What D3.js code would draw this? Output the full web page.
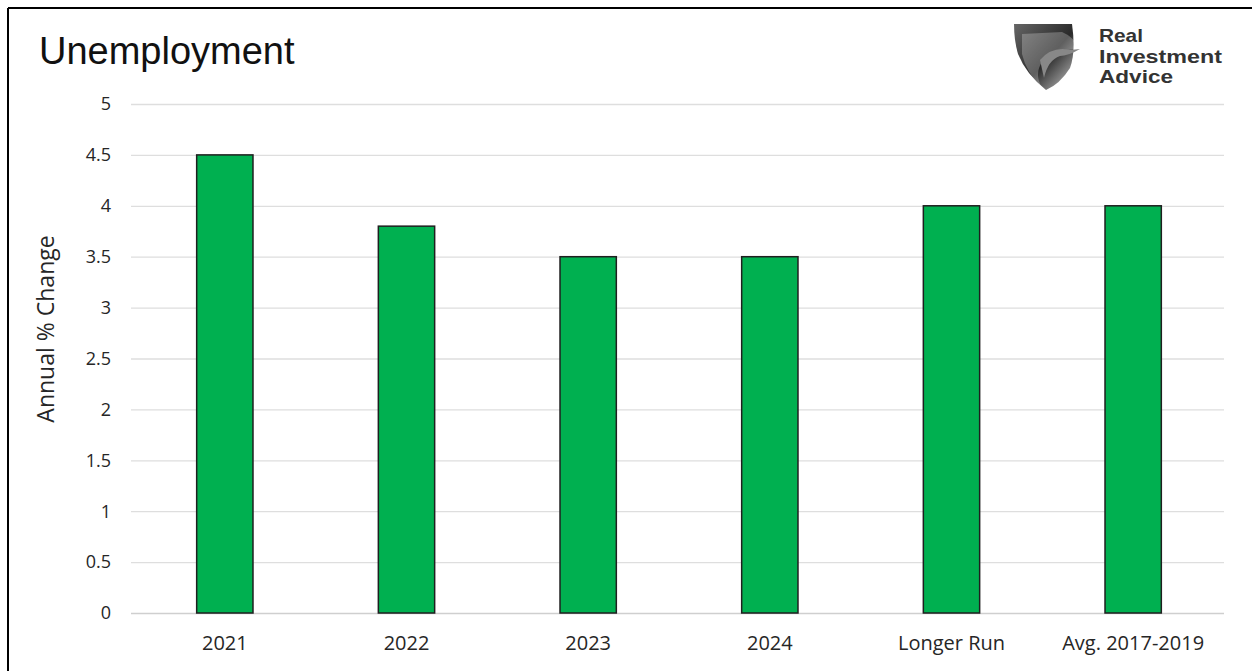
<!DOCTYPE html>
<html>
<head>
<meta charset="utf-8">
<script src="https://cdn.jsdelivr.net/npm/d3@7"></script>
<style>
  body { margin: 0; background: #fff; }
  svg { display: block; }
</style>
</head>
<body>
<svg id="chart" width="1252" height="671"></svg>
<script>
const categories = ['2021', '2022', '2023', '2024', 'Longer Run', 'Avg. 2017-2019'];
const values = [4.5, 3.8, 3.5, 3.5, 4.0, 4.0];
const yTicks = [0, 0.5, 1, 1.5, 2, 2.5, 3, 3.5, 4, 4.5, 5];

const svg = d3.select('#chart');
const W = 1252, H = 671;
const margin = { left: 134, right: 28, top: 104, bottom: 58 };
const labelFont = '"Open Sans", Lato, sans-serif';

// frame (only left and top edges are visible in the source crop)
svg.append('line').attr('x1', 8).attr('x2', 8).attr('y1', 8).attr('y2', H).attr('stroke', '#000').attr('stroke-width', 2);
svg.append('line').attr('x1', 8).attr('x2', W).attr('y1', 8).attr('y2', 8).attr('stroke', '#000').attr('stroke-width', 2);

const x = d3.scaleBand().domain(categories).range([margin.left, W - margin.right]).paddingInner(0.69).paddingOuter(0.345);
const y = d3.scaleLinear().domain([0, 5]).range([H - margin.bottom, margin.top]);

// gridlines
svg.append('g')
  .selectAll('line')
  .data(yTicks)
  .join('line')
  .attr('x1', 131)
  .attr('x2', W - margin.right)
  .attr('y1', (d) => y(d) + 0.5)
  .attr('y2', (d) => y(d) + 0.5)
  .attr('stroke', (d) => (d === 0 ? '#cfcfcf' : '#dedede'))
  .attr('stroke-width', 1.3);

// y tick labels
svg.append('g')
  .selectAll('text')
  .data(yTicks)
  .join('text')
  .attr('x', 111)
  .attr('y', (d) => y(d))
  .attr('dy', '0.35em')
  .attr('text-anchor', 'end')
  .attr('font-family', labelFont)
  .attr('font-size', 18)
  .attr('fill', '#262626')
  .text((d) => d);

// bars
svg.append('g')
  .selectAll('rect')
  .data(values)
  .join('rect')
  .attr('x', (d, i) => x(categories[i]))
  .attr('y', (d) => y(d))
  .attr('width', x.bandwidth())
  .attr('height', (d) => y(0) - y(d))
  .attr('fill', '#00b050')
  .attr('stroke', '#1f1f1f')
  .attr('stroke-width', 1.5);

// x labels
svg.append('g')
  .selectAll('text')
  .data(categories)
  .join('text')
  .attr('x', (d) => x(d) + x.bandwidth() / 2)
  .attr('y', 650)
  .attr('text-anchor', 'middle')
  .attr('font-family', labelFont)
  .attr('font-size', 20)
  .attr('fill', '#262626')
  .text((d) => d);

// y axis title
svg.append('text')
  .attr('transform', 'translate(54,329) rotate(-90)')
  .attr('text-anchor', 'middle')
  .attr('font-family', labelFont)
  .attr('font-size', 23)
  .attr('fill', '#262626')
  .text('Annual % Change');

// title
svg.append('text')
  .attr('x', 39)
  .attr('y', 64)
  .attr('font-family', '"Liberation Sans", Arial, sans-serif')
  .attr('font-size', 38)
  .attr('fill', '#111')
  .text('Unemployment');

// logo
const defs = svg.append('defs');
const grad = defs.append('linearGradient').attr('id', 'shield').attr('x1', 0).attr('x2', 1).attr('y1', 0).attr('y2', 1);
grad.append('stop').attr('offset', '0%').attr('stop-color', '#666');
grad.append('stop').attr('offset', '55%').attr('stop-color', '#2a2a2a');
grad.append('stop').attr('offset', '100%').attr('stop-color', '#c8c8c8');

const logo = svg.append('g').attr('transform', 'translate(1012,22)');
logo.append('path')
  .attr('d', 'M2,2 L60,2 Q64,30 58,46 Q48,62 34,68 Q14,52 6,32 Q2,18 2,2 Z')
  .attr('fill', 'url(#shield)');
logo.append('path')
  .attr('d', 'M10,12 L50,10 Q60,14 68,26 L56,28 Q44,26 30,40 Q22,52 30,66 Q14,50 10,32 Z')
  .attr('fill', '#fff')
  .attr('opacity', 0.25);
logo.append('path')
  .attr('d', 'M28,38 Q40,24 58,28 L68,27 Q56,34 48,34 Q36,38 32,56 Z')
  .attr('fill', '#888');

const logoLines = [['Real', 44], ['Investment', 123], ['Advice', 74]];
logoLines.forEach(([t, w], i) => {
  svg.append('text')
    .attr('x', 1099)
    .attr('y', 42 + i * 20.5)
    .attr('font-family', '"Liberation Sans", Arial, sans-serif')
    .attr('font-weight', 'bold')
    .attr('font-size', 19)
    .attr('textLength', w)
    .attr('lengthAdjust', 'spacingAndGlyphs')
    .attr('fill', '#333')
    .text(t);
});
</script>
</body>
</html>
